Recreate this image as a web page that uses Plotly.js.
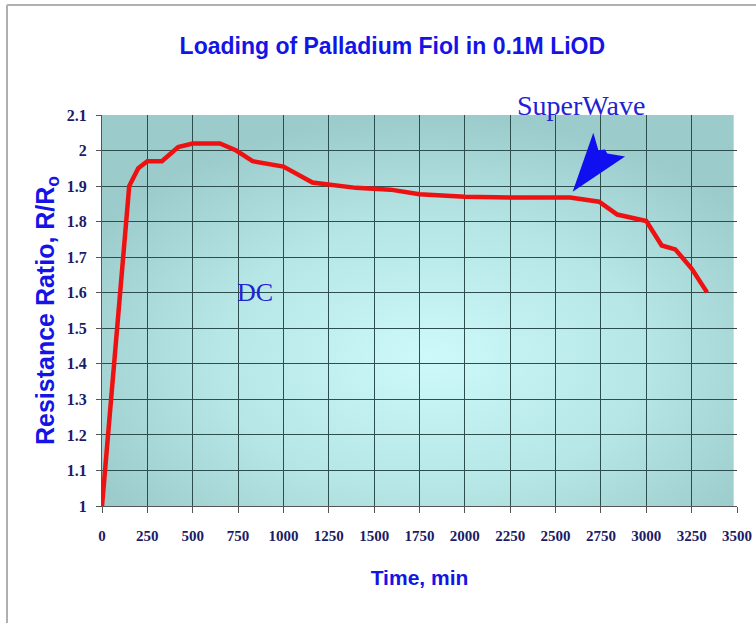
<!DOCTYPE html>
<html>
<head>
<meta charset="utf-8">
<script src="https://cdn.plot.ly/plotly-3.0.1.min.js"></script>
<style>html,body{margin:0;padding:0;background:#fff;}#chart{width:756px;height:623px;}</style>
</head>
<body>
<div id="chart"></div>
<script>
// Data
const timeMin = [0, 80, 150, 200, 250, 330, 420, 500, 650, 740, 830, 1000, 1160, 1400, 1590, 1750, 2000, 2270, 2580, 2740, 2840, 3000, 3085, 3160, 3250, 3335];
const resistanceRatio = [1.0, 1.5, 1.9, 1.95, 1.97, 1.97, 2.01, 2.02, 2.02, 2.0, 1.97, 1.955, 1.91, 1.895, 1.89, 1.877, 1.87, 1.868, 1.868, 1.856, 1.82, 1.802, 1.733, 1.722, 1.668, 1.601];

const titleText = "Loading of Palladium Fiol in 0.1M LiOD";
const xTitleText = "Time, min";
const yTitleText = "Resistance Ratio, R/R<sub>o</sub>";
const labelDC = "DC";
const labelSW = "SuperWave";

// Arrow polygon vertices (data units)
const arrowX = [2594, 2708, 2736, 2772, 2785, 2883];
const arrowY = [1.884, 2.050, 2.001, 2.003, 1.992, 1.983];

const arrowPath = arrowX.map((x, i) => (i === 0 ? 'M ' : 'L ') + x + ',' + arrowY[i]).join(' ') + ' Z';

const bgSvg = "<svg xmlns='http://www.w3.org/2000/svg' width='635' height='391' preserveAspectRatio='none'>" +
  "<defs><radialGradient id='g' cx='0.52' cy='0.62' r='0.62'>" +
  "<stop offset='0' stop-color='#cdf9f9'/><stop offset='0.55' stop-color='#b6e6e6'/><stop offset='1' stop-color='#9ccbcb'/>" +
  "</radialGradient></defs><rect width='635' height='391' fill='url(#g)'/></svg>";
const bgUri = "data:image/svg+xml;charset=utf-8," + encodeURIComponent(bgSvg);

const trace = {
  x: timeMin,
  y: resistanceRatio,
  type: 'scatter',
  mode: 'lines',
  line: {color: '#ee1111', width: 4.5},
  hoverinfo: 'skip',
  showlegend: false
};

const sans = '"Liberation Sans", Arial, sans-serif';
const serif = '"Liberation Serif", "Times New Roman", serif';
const blue = '#1414e6';

const layout = {
  width: 756,
  height: 623,
  margin: {l: 102, r: 19, t: 115, b: 117, pad: 0},
  paper_bgcolor: '#ffffff',
  plot_bgcolor: 'rgba(0,0,0,0)',
  title: {
    text: titleText,
    x: 0.519, xref: 'container', xanchor: 'center',
    y: 0.927, yref: 'container', yanchor: 'middle',
    font: {family: sans, size: 23, color: blue, weight: 'bold'}
  },
  xaxis: {
    range: [0, 3500],
    tick0: 0, dtick: 250,
    showgrid: true, gridcolor: '#2e4d4d', gridwidth: 1,
    showline: true, linecolor: '#555555', linewidth: 1,
    ticks: 'outside', ticklen: 6, tickcolor: '#555555',
    tickfont: {family: serif, size: 15, color: '#1b1b66', weight: 'bold'},
    ticklabelstandoff: 10,
    zeroline: false,
    fixedrange: true,
    title: {text: xTitleText, font: {family: sans, size: 21, color: blue, weight: 'bold'}, standoff: 27}
  },
  yaxis: {
    range: [1, 2.1],
    tick0: 1, dtick: 0.1,
    tickformat: '.1~f',
    showgrid: true, gridcolor: '#2e4d4d', gridwidth: 1,
    showline: true, linecolor: '#555555', linewidth: 1,
    ticks: 'outside', ticklen: 5, tickcolor: '#555555',
    tickfont: {family: serif, size: 16, color: '#1b1b66', weight: 'bold'},
    ticklabelstandoff: 6,
    zeroline: false,
    fixedrange: true,
    title: {text: yTitleText, font: {family: sans, size: 25, color: blue, weight: 'bold'}, standoff: 5}
  },
  images: [{
    source: bgUri,
    xref: 'paper', yref: 'paper',
    x: 0, y: 1, sizex: 0.995, sizey: 1,
    xanchor: 'left', yanchor: 'top',
    sizing: 'stretch', layer: 'below'
  }],
  shapes: [
    {type: 'path', xref: 'x', yref: 'y', path: arrowPath, fillcolor: '#0f0ff0', line: {width: 0}},
    {type: 'line', xref: 'paper', yref: 'paper', x0: -0.1496, x1: -0.1496, y0: 1.2813, y1: -0.30, line: {color: '#b0b0b0', width: 2}},
    {type: 'line', xref: 'paper', yref: 'paper', x0: -0.1496, x1: 1.03, y0: 1.2813, y1: 1.2813, line: {color: '#b0b0b0', width: 2}}
  ],
  annotations: [
    {text: labelDC, x: 843, y: 1.60, xref: 'x', yref: 'y', showarrow: false,
     font: {family: serif, size: 26, color: '#2222d4'}},
    {text: labelSW, x: 0.754, y: 1.025, xref: 'paper', yref: 'paper', showarrow: false,
     xanchor: 'center', yanchor: 'middle',
     font: {family: serif, size: 28, color: '#2222d4'}}
  ]
};

Plotly.newPlot('chart', [trace], layout, {displayModeBar: false, staticPlot: true});
</script>
</body>
</html>
